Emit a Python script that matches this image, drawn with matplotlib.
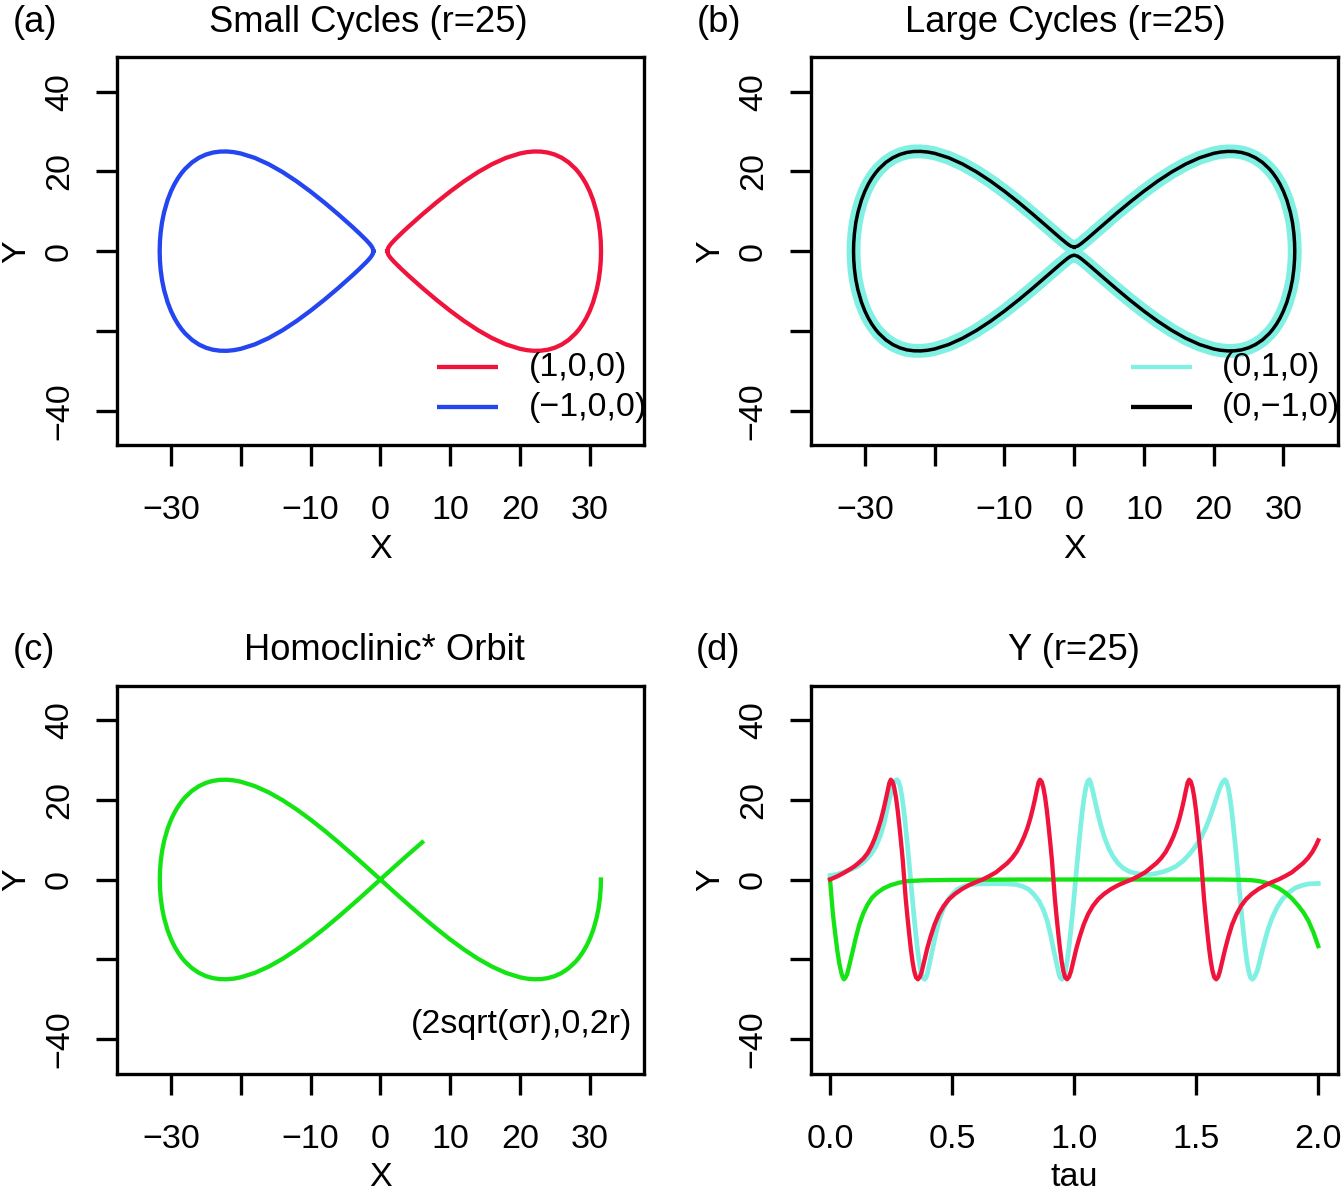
import matplotlib
matplotlib.use("Agg")
import matplotlib.pyplot as plt

plt.rcParams['font.family'] = ['Liberation Sans', 'DejaVu Sans']

# ---------------- data ----------------
# (a) small cycles, start (1,0,0) and (-1,0,0)
red_x = [1.0, 1.1, 1.25, 1.5, 2, 3, 4, 6, 8, 10, 12, 14, 16, 18, 20, 21, 22, 23, 24, 25, 26, 27, 28, 28.5, 29, 29.5, 30, 30.5, 31, 31.3, 31.5, 31.6, 31.64,
         31.6, 31.5, 31.3, 31, 30.5, 30, 29.5, 29, 28.5, 28, 27, 26, 25, 24, 23, 22, 21, 20, 18, 16, 14, 12, 10, 8, 6, 4, 3, 2, 1.5, 1.25, 1.1, 1.0]
red_y = [0, 0.72, 1.18, 1.77, 2.73, 4.45, 6.08, 9.19, 12.15, 14.93, 17.5, 19.81, 21.79, 23.38, 24.48, 24.82, 24.99, 24.96, 24.72, 24.22, 23.42, 22.25, 20.61, 19.57, 18.33, 16.86, 15.07, 12.82, 9.8, 7.24, 4.67, 2.47, 0,
         -2.47, -4.67, -7.24, -9.8, -12.82, -15.07, -16.86, -18.33, -19.57, -20.61, -22.25, -23.42, -24.22, -24.72, -24.96, -24.99, -24.82, -24.48, -23.38, -21.79, -19.81, -17.5, -14.93, -12.15, -9.19, -6.08, -4.45, -2.73, -1.77, -1.18, -0.72, 0]
blue_x = [-1.0, -1.1, -1.25, -1.5, -2, -3, -4, -6, -8, -10, -12, -14, -16, -18, -20, -21, -22, -23, -24, -25, -26, -27, -28, -28.5, -29, -29.5, -30, -30.5, -31, -31.3, -31.5, -31.6, -31.64,
          -31.6, -31.5, -31.3, -31, -30.5, -30, -29.5, -29, -28.5, -28, -27, -26, -25, -24, -23, -22, -21, -20, -18, -16, -14, -12, -10, -8, -6, -4, -3, -2, -1.5, -1.25, -1.1, -1.0]
blue_y = [0, -0.72, -1.18, -1.77, -2.73, -4.45, -6.08, -9.19, -12.15, -14.93, -17.5, -19.81, -21.79, -23.38, -24.48, -24.82, -24.99, -24.96, -24.72, -24.22, -23.42, -22.25, -20.61, -19.57, -18.33, -16.86, -15.07, -12.82, -9.8, -7.24, -4.67, -2.47, 0,
          2.47, 4.67, 7.24, 9.8, 12.82, 15.07, 16.86, 18.33, 19.57, 20.61, 22.25, 23.42, 24.22, 24.72, 24.96, 24.99, 24.82, 24.48, 23.38, 21.79, 19.81, 17.5, 14.93, 12.15, 9.19, 6.08, 4.45, 2.73, 1.77, 1.18, 0.72, 0]

# (b) large cycle, traced from (0,1,0) and from (0,-1,0) (same orbit)
large_x = [0, 0.5, 1, 2, 3, 4, 6, 8, 10, 12, 14, 16, 18, 20, 21, 22, 23, 24, 25, 26, 27, 28, 28.5, 29, 29.5, 30, 30.5, 31, 31.3, 31.5, 31.6, 31.63,
           31.6, 31.5, 31.3, 31, 30.5, 30, 29.5, 29, 28.5, 28, 27, 26, 25, 24, 23, 22, 21, 20, 18, 16, 14, 12, 10, 8, 6, 4, 3, 2, 1, 0.5, 0,
           -0.5, -1, -2, -3, -4, -6, -8, -10, -12, -14, -16, -18, -20, -21, -22, -23, -24, -25, -26, -27, -28, -28.5, -29, -29.5, -30, -30.5, -31, -31.3, -31.5, -31.6, -31.63,
           -31.6, -31.5, -31.3, -31, -30.5, -30, -29.5, -29, -28.5, -28, -27, -26, -25, -24, -23, -22, -21, -20, -18, -16, -14, -12, -10, -8, -6, -4, -3, -2, -1, -0.5, 0]
large_y = [1, 1.27, 1.87, 3.31, 4.83, 6.35, 9.37, 12.28, 15.03, 17.58, 19.87, 21.84, 23.42, 24.52, 24.85, 25.01, 24.98, 24.75, 24.23, 23.42, 22.25, 20.6, 19.55, 18.31, 16.84, 15.03, 12.78, 9.73, 7.2, 4.51, 2.12, 0,
           -2.12, -4.51, -7.2, -9.73, -12.78, -15.03, -16.84, -18.31, -19.55, -20.6, -22.25, -23.42, -24.23, -24.75, -24.98, -25.01, -24.85, -24.52, -23.42, -21.84, -19.87, -17.58, -15.03, -12.28, -9.37, -6.35, -4.83, -3.31, -1.87, -1.27, -1,
           -1.27, -1.87, -3.31, -4.83, -6.35, -9.37, -12.28, -15.03, -17.58, -19.87, -21.84, -23.42, -24.52, -24.85, -25.01, -24.98, -24.75, -24.23, -23.42, -22.25, -20.6, -19.55, -18.31, -16.84, -15.03, -12.78, -9.73, -7.2, -4.51, -2.12, 0,
           2.12, 4.51, 7.2, 9.73, 12.78, 15.03, 16.84, 18.31, 19.55, 20.6, 22.25, 23.42, 24.23, 24.75, 24.98, 25.01, 24.85, 24.52, 23.42, 21.84, 19.87, 17.58, 15.03, 12.28, 9.37, 6.35, 4.83, 3.31, 1.87, 1.27, 1]

# (c) homoclinic* orbit from (2sqrt(sigma r),0,2r)
homo_x = [31.62, 31.6, 31.5, 31.3, 31, 30.5, 30, 29.5, 29, 28.5, 28, 27, 26, 25, 24, 23, 22, 21, 20, 18, 16, 14, 12, 10, 8, 6, 4, 3, 2, 1, 0,
          -1, -2, -3, -4, -6, -8, -10, -12, -14, -16, -18, -20, -21, -22, -23, -24, -25, -26, -27, -28, -28.5, -29, -29.5, -30, -30.5, -31, -31.3, -31.5, -31.6, -31.62,
          -31.6, -31.5, -31.3, -31, -30.5, -30, -29.5, -29, -28.5, -28, -27, -26, -25, -24, -23, -22, -21, -20, -18, -16, -14, -12, -10, -8, -6, -4, -3, -2, -1, 0,
          1, 2, 3, 4, 6]
homo_y = [0, -1.87, -4.39, -7.07, -9.68, -12.74, -15.0, -16.8, -18.28, -19.53, -20.58, -22.22, -23.4, -24.21, -24.71, -24.96, -24.99, -24.83, -24.49, -23.4, -21.82, -19.85, -17.55, -15.0, -12.24, -9.31, -6.27, -4.72, -3.16, -1.58, 0,
          1.58, 3.16, 4.72, 6.27, 9.31, 12.24, 15.0, 17.55, 19.85, 21.82, 23.4, 24.49, 24.83, 24.99, 24.96, 24.71, 24.21, 23.4, 22.22, 20.58, 19.53, 18.28, 16.8, 15.0, 12.74, 9.68, 7.07, 4.39, 1.87, 0,
          -1.87, -4.39, -7.07, -9.68, -12.74, -15.0, -16.8, -18.28, -19.53, -20.58, -22.22, -23.4, -24.21, -24.71, -24.96, -24.99, -24.83, -24.49, -23.4, -21.82, -19.85, -17.55, -15.0, -12.24, -9.31, -6.27, -4.72, -3.16, -1.58, 0,
          1.58, 3.16, 4.72, 6.27, 9.31]

# (d) Y(tau)
red_tau = [0.000, 0.030, 0.058, 0.085, 0.100, 0.116, 0.136, 0.154, 0.170, 0.184, 0.197, 0.209, 0.219, 0.228, 0.236, 0.243, 0.249,
           0.256, 0.263, 0.270, 0.277, 0.284, 0.291, 0.298, 0.304, 0.310, 0.317, 0.324, 0.331, 0.338, 0.345, 0.352, 0.360,
           0.368, 0.376, 0.386, 0.398, 0.412, 0.428, 0.446, 0.466, 0.488, 0.512, 0.540, 0.570, 0.600, 0.625,
           0.654, 0.680, 0.704, 0.726, 0.746, 0.764, 0.780, 0.795, 0.808, 0.820, 0.830, 0.839, 0.847, 0.854, 0.860,
           0.867, 0.874, 0.881, 0.888, 0.895, 0.902, 0.909, 0.915, 0.921, 0.928, 0.935, 0.942, 0.949, 0.956, 0.963, 0.971,
           0.979, 0.987, 0.997, 1.009, 1.023, 1.039, 1.057, 1.077, 1.099, 1.123, 1.151, 1.181, 1.211, 1.236,
           1.265, 1.291, 1.315, 1.337, 1.357, 1.375, 1.391, 1.406, 1.419, 1.431, 1.441, 1.450, 1.458, 1.465, 1.471,
           1.478, 1.485, 1.492, 1.499, 1.506, 1.513, 1.520, 1.526, 1.532, 1.539, 1.546, 1.553, 1.560, 1.567, 1.574, 1.582,
           1.590, 1.597, 1.607, 1.619, 1.632, 1.647, 1.665, 1.684, 1.705, 1.728, 1.755, 1.784, 1.813, 1.837,
           1.866, 1.892, 1.916, 1.938, 1.958, 1.976, 1.992, 2.000]
red_yt = [0.0, 0.8, 1.7, 2.7, 3.3, 4.1, 5.2, 6.6, 8.4, 10.4, 12.7, 15.1, 17.5, 19.9, 22.2, 24.2, 25.0,
          24.5, 23.0, 20.6, 17.4, 13.5, 9.3, 4.8, 0.0, -4.8, -9.3, -13.5, -17.4, -20.6, -23.0, -24.5, -25.0,
          -24.4, -23.0, -20.4, -17.3, -14.3, -11.3, -8.7, -6.6, -4.9, -3.6, -2.4, -1.4, -0.6, 0.0,
          0.9, 1.8, 3.0, 4.1, 5.4, 6.9, 8.7, 10.7, 12.8, 15.2, 17.6, 20.0, 22.4, 24.3, 25.0,
          24.5, 23.0, 20.6, 17.4, 13.5, 9.3, 4.8, 0.0, -4.8, -9.3, -13.5, -17.4, -20.6, -23.0, -24.5, -25.0,
          -24.4, -23.0, -20.4, -17.3, -14.3, -11.3, -8.7, -6.6, -4.9, -3.6, -2.4, -1.4, -0.6, 0.0,
          0.9, 1.8, 3.0, 4.1, 5.4, 6.9, 8.7, 10.7, 12.8, 15.2, 17.6, 20.0, 22.4, 24.3, 25.0,
          24.5, 23.0, 20.6, 17.4, 13.5, 9.3, 4.8, 0.0, -4.8, -9.3, -13.5, -17.4, -20.6, -23.0, -24.5, -25.0,
          -24.4, -23.0, -20.4, -17.3, -14.3, -11.3, -8.7, -6.6, -4.9, -3.6, -2.4, -1.4, -0.6, 0.0,
          0.9, 1.8, 3.0, 4.1, 5.4, 6.9, 8.7, 9.8]

cyan_tau = [0.000, 0.030, 0.058, 0.085, 0.113, 0.140, 0.167, 0.188, 0.208, 0.222, 0.235, 0.245, 0.255, 0.265, 0.274,
            0.281, 0.288, 0.295, 0.302, 0.309, 0.316, 0.323, 0.330, 0.337, 0.344, 0.351, 0.358, 0.365, 0.372, 0.379, 0.387,
            0.393, 0.398, 0.407, 0.419, 0.432, 0.446, 0.462, 0.480, 0.500, 0.521, 0.547, 0.575, 0.610, 0.668,
            0.726, 0.761, 0.789, 0.815, 0.836, 0.856, 0.874, 0.890, 0.904, 0.917, 0.929, 0.938, 0.943, 0.950,
            0.957, 0.964, 0.971, 0.978, 0.985, 0.992, 0.999, 1.006, 1.013, 1.020, 1.027, 1.034, 1.041, 1.048, 1.055, 1.062,
            1.068, 1.077, 1.087, 1.098, 1.111, 1.125, 1.141, 1.159, 1.179, 1.200, 1.226, 1.254, 1.281, 1.308,
            1.335, 1.363, 1.390, 1.417, 1.445, 1.471, 1.496, 1.519, 1.541, 1.560, 1.578, 1.594, 1.606, 1.617,
            1.624, 1.631, 1.638, 1.645, 1.652, 1.659, 1.666, 1.673, 1.680, 1.687, 1.694, 1.701, 1.708, 1.715, 1.722, 1.730,
            1.738, 1.750, 1.762, 1.777, 1.793, 1.811, 1.831, 1.852, 1.878, 1.906, 1.933, 1.960, 2.000]
cyan_yt = [1.0, 1.3, 1.9, 2.5, 3.3, 4.5, 6.25, 8.3, 11.25, 14.3, 17.9, 20.5, 22.9, 24.5, 25.0,
           24.5, 23.0, 20.6, 17.4, 13.5, 9.3, 4.8, 0.0, -4.8, -9.3, -13.5, -17.4, -20.6, -23.0, -24.5, -25.0,
           -24.6, -23.75, -21.2, -17.9, -14.0, -10.4, -7.6, -5.4, -3.8, -2.5, -1.7, -1.25, -1.1, -1.05,
           -1.1, -1.25, -1.7, -2.5, -3.8, -5.4, -7.6, -10.4, -14.0, -17.9, -21.2, -23.75, -24.6, -25.0,
           -24.5, -23.0, -20.6, -17.4, -13.5, -9.3, -4.8, 0.0, 4.8, 9.3, 13.5, 17.4, 20.6, 23.0, 24.5, 25.0,
           24.2, 22.0, 19.2, 16.25, 13.2, 10.4, 7.9, 5.8, 4.1, 2.9, 2.0, 1.5, 1.3, 1.25,
           1.5, 1.9, 2.5, 3.3, 4.6, 6.25, 8.2, 10.4, 13.2, 16.25, 19.5, 22.5, 24.2, 25.0,
           24.5, 23.0, 20.6, 17.4, 13.5, 9.3, 4.8, 0.0, -4.8, -9.3, -13.5, -17.4, -20.6, -23.0, -24.5, -25.0,
           -24.5, -22.9, -20.0, -16.25, -12.7, -9.6, -7.0, -5.0, -3.3, -2.1, -1.5, -1.1, -1.0]

green_tau = [0.000, 0.006, 0.012, 0.021, 0.030, 0.038, 0.046, 0.052, 0.057, 0.063, 0.070, 0.081, 0.093, 0.106, 0.120,
             0.136, 0.154, 0.173, 0.194, 0.220, 0.249, 0.283, 0.317, 0.385, 0.500, 0.800, 1.200, 1.600, 1.702,
             1.730, 1.757, 1.785, 1.811, 1.838, 1.865, 1.893, 1.920, 1.941, 1.960, 1.980, 2.000]
green_yt = [0.0, -4.5, -8.75, -13.5, -17.9, -21.0, -23.3, -24.5, -25.0, -24.6, -23.75, -21.0, -17.9, -14.5, -11.25,
            -8.5, -6.25, -4.5, -3.3, -2.2, -1.4, -0.8, -0.4, -0.2, -0.1, 0.0, 0.0, 0.0, -0.1,
            -0.2, -0.4, -0.8, -1.4, -2.2, -3.3, -4.8, -6.7, -8.4, -10.4, -13.2, -16.7]

xy_ticks = [-30, -20, -10, 0, 10, 20, 30]
xy_ticklabels = ['\u221230', '', '\u221210', '0', '10', '20', '30']
y_ticks = [-40, -20, 0, 20, 40]
y_ticklabels = ['\u221240', '', '0', '20', '40']
tau_ticks = [0.0, 0.5, 1.0, 1.5, 2.0]
tau_ticklabels = ['0.0', '0.5', '1.0', '1.5', '2.0']

RED = '#F0143C'
BLUE = '#2446F0'
CYAN = '#80F0E2'
GREEN = '#14E414'

W, H = 1344, 1195
FS = 24.5
FS_TITLE = 26.2

fig = plt.figure(figsize=(W / 100, H / 100), dpi=100)
fig.patch.set_facecolor('white')


def frac(px, py):
    return px / W, 1 - py / H


def make_axes(left_px, top_px, right_px, bottom_px):
    return fig.add_axes([left_px / W, 1 - bottom_px / H, (right_px - left_px) / W, (bottom_px - top_px) / H])


def style(ax, xticks, xlabels, xlim):
    ax.set_xlim(*xlim)
    ax.set_ylim(-48.6, 48.6)
    for sp in ax.spines.values():
        sp.set_linewidth(2.4)
    ax.set_xticks(xticks)
    ax.set_xticklabels(xlabels)
    ax.set_yticks(y_ticks)
    ax.set_yticklabels(y_ticklabels)
    ax.tick_params(axis='both', direction='out', length=15, width=2.4, labelsize=FS)
    ax.tick_params(axis='x', pad=21)
    ax.tick_params(axis='y', pad=15, labelrotation=90)
    for lab in ax.get_yticklabels():
        lab.set_va('center')
        lab.set_ha('right')


ax_a = make_axes(116.7, 57.3, 644, 445)
ax_b = make_axes(810.5, 57.3, 1337.8, 445)
ax_c = make_axes(116.7, 685.5, 644, 1073.5)
ax_d = make_axes(810.5, 685.5, 1337.8, 1073.5)

xl = (-37.8, 37.8)
for ax in (ax_a, ax_b, ax_c):
    style(ax, xy_ticks, xy_ticklabels, xl)
style(ax_d, tau_ticks, tau_ticklabels, (-0.08, 2.08))

LW = 3.1

# (a)
ax_a.plot(red_x, red_y, color=RED, lw=LW)
ax_a.plot(blue_x, blue_y, color=BLUE, lw=LW)
ax_a.plot([0.607, 0.723], [0.201, 0.201], transform=ax_a.transAxes, color=RED, lw=LW, solid_capstyle='butt')
ax_a.plot([0.607, 0.723], [0.098, 0.098], transform=ax_a.transAxes, color=BLUE, lw=LW, solid_capstyle='butt')
ax_a.text(0.781, 0.201, '(1,0,0)', transform=ax_a.transAxes, fontsize=FS, va='center', ha='left')
ax_a.text(0.781, 0.098, '(\u22121,0,0)', transform=ax_a.transAxes, fontsize=FS, va='center', ha='left')

# (b)
ax_b.plot(large_x, large_y, color=CYAN, lw=10, solid_joinstyle='round')
ax_b.plot(large_x, large_y, color='black', lw=2.5)
ax_b.plot([0.607, 0.723], [0.201, 0.201], transform=ax_b.transAxes, color=CYAN, lw=LW, solid_capstyle='butt')
ax_b.plot([0.607, 0.723], [0.098, 0.098], transform=ax_b.transAxes, color='black', lw=LW, solid_capstyle='butt')
ax_b.text(0.781, 0.201, '(0,1,0)', transform=ax_b.transAxes, fontsize=FS, va='center', ha='left')
ax_b.text(0.781, 0.098, '(0,\u22121,0)', transform=ax_b.transAxes, fontsize=FS, va='center', ha='left')

# (c)
ax_c.plot(homo_x, homo_y, color=GREEN, lw=LW)
ax_c.text(0.977, 0.125, '(2sqrt(\u03c3r),0,2r)', transform=ax_c.transAxes, fontsize=FS, va='center', ha='right')

# (d)
ax_d.plot(cyan_tau, cyan_yt, color=CYAN, lw=3.4)
ax_d.plot(green_tau, green_yt, color=GREEN, lw=LW)
ax_d.plot(red_tau, red_yt, color=RED, lw=LW)

# titles and panel letters
for letter, lx, tx, title, base in [('(a)', 13, 368, 'Small Cycles (r=25)', 32),
                                    ('(b)', 697, 1065, 'Large Cycles (r=25)', 32),
                                    ('(c)', 13, 384, 'Homoclinic* Orbit', 660),
                                    ('(d)', 696, 1074, 'Y (r=25)', 660)]:
    fig.text(*frac(lx, base), letter, fontsize=FS_TITLE, ha='left', va='baseline')
    fig.text(*frac(tx, base), title, fontsize=FS_TITLE, ha='center', va='baseline')

# axis labels
for txt, x, y in [('X', 381, 558), ('X', 1075, 558), ('X', 381, 1186), ('tau', 1074, 1186)]:
    fig.text(*frac(x, y), txt, fontsize=FS, ha='center', va='baseline')
for x, y in [(17, 252), (711, 252), (17, 880), (711, 880)]:
    fig.text(*frac(x, y), 'Y', fontsize=FS, ha='center', va='center', rotation=90)

fig.savefig('out.png', dpi=100, facecolor='white')
